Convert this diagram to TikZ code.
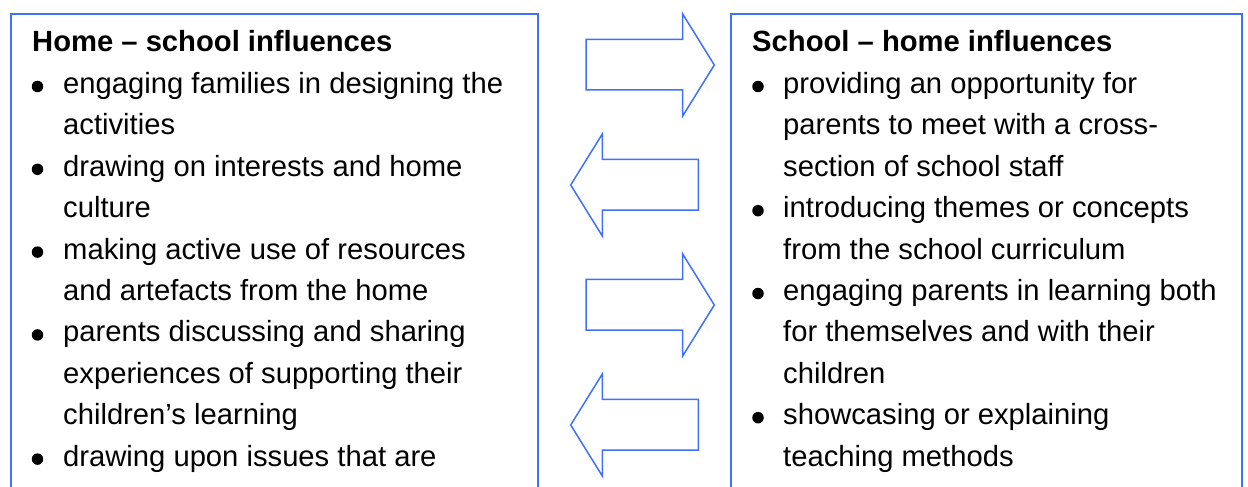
\documentclass[tikz,border=0pt]{standalone}
\usepackage{fontspec}
\setmainfont{Liberation Sans}
\definecolor{frame}{RGB}{64,112,255}
\begin{document}
\begin{tikzpicture}[x=1pt,y=-1pt,
  panel/.style={draw=frame,line width=1.5pt},
  blockarrow/.style={draw=frame,line width=1.5pt,line join=miter},
  txt/.style={anchor=base west,inner sep=0pt,font=\fontsize{29.2}{35}\selectfont},
  ttl/.style={anchor=base west,inner sep=0pt,font=\fontsize{29.2}{35}\selectfont\bfseries},
  dot/.style={circle,fill=black,inner sep=0pt,minimum size=11.5pt}]
\useasboundingbox (0,0) rectangle (1248,487);
% panels
\draw[panel] (11,495) -- (11,14) -- (538,14) -- (538,495);
\draw[panel] (731,495) -- (731,14) -- (1242,14) -- (1242,495);
% block arrows
\draw[blockarrow] (586,39.3) -- (682.7,39.3) -- (682.7,14) -- (714.3,65) -- (682.7,116) -- (682.7,90) -- (586,90) -- cycle;
\draw[blockarrow] (698.3,159.3) -- (602.3,159.3) -- (602.3,134) -- (570.7,185) -- (602.3,236) -- (602.3,210) -- (698.3,210) -- cycle;
\draw[blockarrow] (586,279.3) -- (682.7,279.3) -- (682.7,254) -- (714.3,305) -- (682.7,356) -- (682.7,330) -- (586,330) -- cycle;
\draw[blockarrow] (698.3,399.3) -- (602.3,399.3) -- (602.3,374) -- (570.7,425) -- (602.3,476) -- (602.3,450) -- (698.3,450) -- cycle;
% left panel text
\node[ttl] (lt) at (32,52) {Home – school influences};
\node[dot] (lb1) at (37.5,86.5) {};
\node[txt] (l1) at (63,93.4) {engaging families in designing the};
\node[txt] (l2) at (63,134.8) {activities};
\node[dot] (lb2) at (37.5,169.3) {};
\node[txt] (l3) at (63,176.2) {drawing on interests and home};
\node[txt] (l4) at (63,217.6) {culture};
\node[dot] (lb3) at (37.5,252.1) {};
\node[txt] (l5) at (63,259) {making active use of resources};
\node[txt] (l6) at (63,300.4) {and artefacts from the home};
\node[dot] (lb4) at (37.5,334.9) {};
\node[txt] (l7) at (63,341.8) {parents discussing and sharing};
\node[txt] (l8) at (63,383.2) {experiences of supporting their};
\node[txt] (l9) at (63,424.6) {children’s learning};
\node[dot] (lb5) at (37.5,459.1) {};
\node[txt] (l10) at (63,466) {drawing upon issues that are};
% right panel text
\node[ttl] (rt) at (752,52) {School – home influences};
\node[dot] (rb1) at (758,86.5) {};
\node[txt] (r1) at (783,93.4) {providing an opportunity for};
\node[txt] (r2) at (783,134.8) {parents to meet with a cross-};
\node[txt] (r3) at (783,176.2) {section of school staff};
\node[dot] (rb2) at (758,210.7) {};
\node[txt] (r4) at (783,217.6) {introducing themes or concepts};
\node[txt] (r5) at (783,259) {from the school curriculum};
\node[dot] (rb3) at (758,293.5) {};
\node[txt] (r6) at (783,300.4) {engaging parents in learning both};
\node[txt] (r7) at (783,341.8) {for themselves and with their};
\node[txt] (r8) at (783,383.2) {children};
\node[dot] (rb4) at (758,417.7) {};
\node[txt] (r9) at (783,424.6) {showcasing or explaining};
\node[txt] (r10) at (783,466) {teaching methods};
\end{tikzpicture}
\end{document}
